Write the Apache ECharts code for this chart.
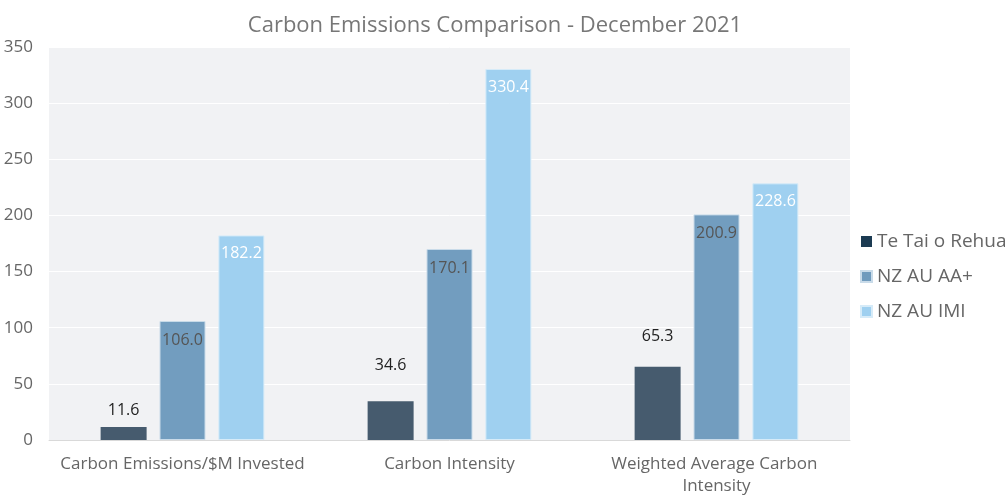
<!DOCTYPE html>
<html><head><meta charset="utf-8">
<script src="https://cdn.jsdelivr.net/npm/echarts@6/dist/echarts.min.js"></script>
<style>html,body{margin:0;padding:0;background:#fff}#c{width:1005px;height:495px}</style>
</head><body><div id="c"></div>
<script>
const categories = ["Carbon Emissions/$M Invested", "Carbon Intensity", "Weighted Average Carbon Intensity"];
const seriesNames = ["Te Tai o Rehua", "NZ AU AA+", "NZ AU IMI"];
const teTaiORehua = [11.6, 34.6, 65.3];
const nzAuAAplus = [106.0, 170.1, 200.9];
const nzAuIMI = [182.2, 330.4, 228.6];
const yTicks = [0, 50, 100, 150, 200, 250, 300, 350];

const font = '"Open Sans", Lato, sans-serif';
const chart = echarts.init(document.getElementById('c'));
const fmt = p => p.value.toFixed(1);
const firstLabelDistance = [9, 28, 22];
chart.setOption({
  animation: false,
  textStyle: { fontFamily: font },
  title: { text: 'Carbon Emissions Comparison - December 2021', left: 490, textAlign: 'center', top: 10,
    textStyle: { fontFamily: font, fontSize: 22, fontWeight: 'normal', color: '#777' } },
  legend: {
    orient: 'vertical', left: 855, top: 227, itemGap: 16, itemWidth: 11, itemHeight: 11, icon: 'rect',
    textStyle: { fontFamily: font, fontSize: 19, color: '#666' },
    data: [
      { name: seriesNames[0], itemStyle: { color: '#1c3b52' } },
      { name: seriesNames[1], itemStyle: { color: '#709bbd' } },
      { name: seriesNames[2], itemStyle: { color: '#9fd0f0' } }
    ]
  },
  grid: { left: 49, right: 155, top: 47, bottom: 55, show: true, backgroundColor: '#f1f2f4', borderWidth: 0,
    outerBoundsMode: 'none', containLabel: false },
  xAxis: {
    type: 'category', data: categories,
    axisLine: { lineStyle: { color: '#d9d9d9' } }, axisTick: { show: false },
    axisLabel: { fontFamily: font, fontSize: 17, color: '#666', margin: 13, width: 255, overflow: 'break', lineHeight: 22, interval: 0 }
  },
  yAxis: {
    type: 'value', min: yTicks[0], max: yTicks[yTicks.length - 1], interval: 50,
    axisLine: { show: false }, axisTick: { show: false },
    axisLabel: { fontFamily: font, fontSize: 17, color: '#666', margin: 16 },
    splitLine: { lineStyle: { color: '#ffffff', width: 1 } }
  },
  series: [
    { name: seriesNames[0], type: 'bar', barWidth: 46, barGap: '28%',
      data: teTaiORehua.map((v, i) => ({ value: v, label: { distance: firstLabelDistance[i] } })),
      itemStyle: { color: '#465b6e' },
      label: { show: true, position: 'top', formatter: fmt, fontFamily: font, fontSize: 16, color: '#222' } },
    { name: seriesNames[1], type: 'bar', data: nzAuAAplus, barWidth: 46,
      itemStyle: { color: '#729dbf', borderColor: '#c9dbe9', borderWidth: 1 },
      label: { show: true, position: 'insideTop', distance: 11, formatter: fmt, fontFamily: font, fontSize: 16, color: '#555' } },
    { name: seriesNames[2], type: 'bar', data: nzAuIMI, barWidth: 46,
      itemStyle: { color: '#9fd0f0', borderColor: '#d6ebf8', borderWidth: 1 },
      label: { show: true, position: 'insideTop', distance: 10, formatter: fmt, fontFamily: font, fontSize: 16, color: '#ffffff' } }
  ]
});
</script></body></html>
